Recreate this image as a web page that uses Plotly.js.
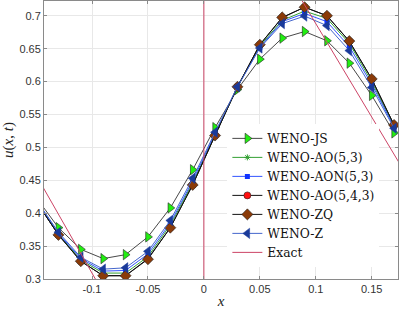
<!DOCTYPE html>
<html>
<head>
<meta charset="utf-8">
<script src="https://cdn.plot.ly/plotly-3.0.1.min.js"></script>
<style>html,body{margin:0;padding:0;background:#fff;}#chart{width:399px;height:310px;}</style>
</head>
<body>
<div id="chart"></div>
<script>
const xPts = [-0.15, -0.13, -0.11, -0.09, -0.07, -0.05, -0.03, -0.01, 0.01, 0.03, 0.05, 0.07, 0.09, 0.11, 0.13, 0.15, 0.17];
const wenoJS   = [0.424, 0.378, 0.345, 0.331, 0.337, 0.364, 0.408, 0.466, 0.530, 0.588, 0.634, 0.666, 0.676, 0.662, 0.628, 0.579, 0.522];
const wenoAO53 = [0.419, 0.368, 0.329, 0.309, 0.309, 0.334, 0.382, 0.446, 0.519, 0.592, 0.654, 0.693, 0.707, 0.696, 0.658, 0.600, 0.532];
const wenoAON53= [0.420, 0.369, 0.331, 0.312, 0.313, 0.338, 0.385, 0.449, 0.521, 0.592, 0.652, 0.691, 0.7035, 0.691, 0.653, 0.596, 0.531];
const wenoAO543= [0.418, 0.367, 0.327, 0.305, 0.305, 0.331, 0.378, 0.443, 0.518, 0.592, 0.656, 0.697, 0.713, 0.700, 0.661, 0.604, 0.534];
const wenoZQ   = [0.418, 0.367, 0.327, 0.305, 0.305, 0.330, 0.378, 0.443, 0.518, 0.592, 0.656, 0.6975, 0.713, 0.700, 0.6615, 0.604, 0.534];
const wenoZ    = [0.421, 0.371, 0.333, 0.315, 0.317, 0.342, 0.389, 0.453, 0.523, 0.592, 0.651, 0.688, 0.6995, 0.685, 0.647, 0.591, 0.529];
const exactX = [-0.15, 0, 0, 0.18];
const exactY = [0.458, 0.011, 0.972, 0.461];
const xTickVals = [-0.1, -0.05, 0, 0.05, 0.1, 0.15];
const xTickText = ["-0.1", "-0.05", "0", "0.05", "0.1", "0.15"];
const yTickVals = [0.3, 0.35, 0.4, 0.45, 0.5, 0.55, 0.6, 0.65, 0.7];
const yTickText = ["0.3", "0.35", "0.4", "0.45", "0.5", "0.55", "0.6", "0.65", "0.7"];

const traces = [
  {x: xPts, y: wenoJS, name: "WENO-JS", mode: "lines+markers",
   line: {color: "#333333", width: 0.9},
   marker: {symbol: "triangle-right", size: 9, color: "#22ee11", line: {color: "#222", width: 0.6}}},
  {x: xPts, y: wenoAO53, name: "WENO-AO(5,3)", mode: "lines+markers",
   line: {color: "#33a033", width: 1},
   marker: {symbol: "asterisk", size: 5, color: "#33a033", line: {color: "#33a033", width: 1}}},
  {x: xPts, y: wenoAON53, name: "WENO-AON(5,3)", mode: "lines+markers",
   line: {color: "#3355ff", width: 1},
   marker: {symbol: "square", size: 5, color: "#1133ff", line: {color: "#1133ff", width: 0}}},
  {x: xPts, y: wenoAO543, name: "WENO-AO(5,4,3)", mode: "lines+markers",
   line: {color: "#111111", width: 1},
   marker: {symbol: "circle", size: 7, color: "#ff1010", line: {color: "#222", width: 0.6}}},
  {x: xPts, y: wenoZQ, name: "WENO-ZQ", mode: "lines+markers",
   line: {color: "#111111", width: 1},
   marker: {symbol: "diamond", size: 8.5, color: "#8a3a08", line: {color: "#222", width: 0.6}}},
  {x: xPts, y: wenoZ, name: "WENO-Z", mode: "lines+markers",
   line: {color: "#4466cc", width: 1},
   marker: {symbol: "triangle-left", size: 9, color: "#1a3a9a", line: {color: "#1a3a9a", width: 0.5}}},
  {x: exactX, y: exactY, name: "Exact", mode: "lines",
   line: {color: "#cc4466", width: 1}}
];

const layout = {
  width: 399, height: 310,
  margin: {l: 44, r: 1, t: 1, b: 31, pad: 0},
  paper_bgcolor: "#fff", plot_bgcolor: "#fff",
  showlegend: true,
  legend: {x: 0.518, y: 0.558, xanchor: "left", yanchor: "top",
    bgcolor: "rgba(255,255,255,1)", borderwidth: 0,
    font: {family: "DejaVu Serif, serif", size: 12.3, color: "#111"},
    tracegroupgap: 0, itemwidth: 30},
  xaxis: {range: [-0.1429, 0.1735], tickvals: xTickVals, ticktext: xTickText,
    showgrid: true, gridcolor: "#e8e8e8", gridwidth: 1, zeroline: false,
    showline: true, linecolor: "#8a8a8a", linewidth: 1, mirror: "ticks",
    ticks: "inside", ticklen: 3, tickcolor: "#8a8a8a",
    tickfont: {family: "Liberation Sans, Arial, sans-serif", size: 11, color: "#333"},
    title: {text: "<i>x</i>", font: {family: "Liberation Serif, serif", size: 15, color: "#222"}, standoff: 1}},
  yaxis: {range: [0.3, 0.7224], tickvals: yTickVals, ticktext: yTickText,
    showgrid: true, gridcolor: "#e8e8e8", gridwidth: 1, zeroline: false,
    showline: true, linecolor: "#8a8a8a", linewidth: 1, mirror: "ticks",
    ticks: "inside", ticklen: 3, tickcolor: "#8a8a8a",
    tickfont: {family: "Liberation Sans, Arial, sans-serif", size: 11, color: "#333"},
    title: {text: "<i>u</i>(<i>x</i>, <i>t</i>)", font: {family: "Liberation Serif, serif", size: 15, color: "#222"}, standoff: 6}}
};

Plotly.newPlot("chart", traces, layout, {displayModeBar: false, staticPlot: true});
</script>
</body>
</html>
